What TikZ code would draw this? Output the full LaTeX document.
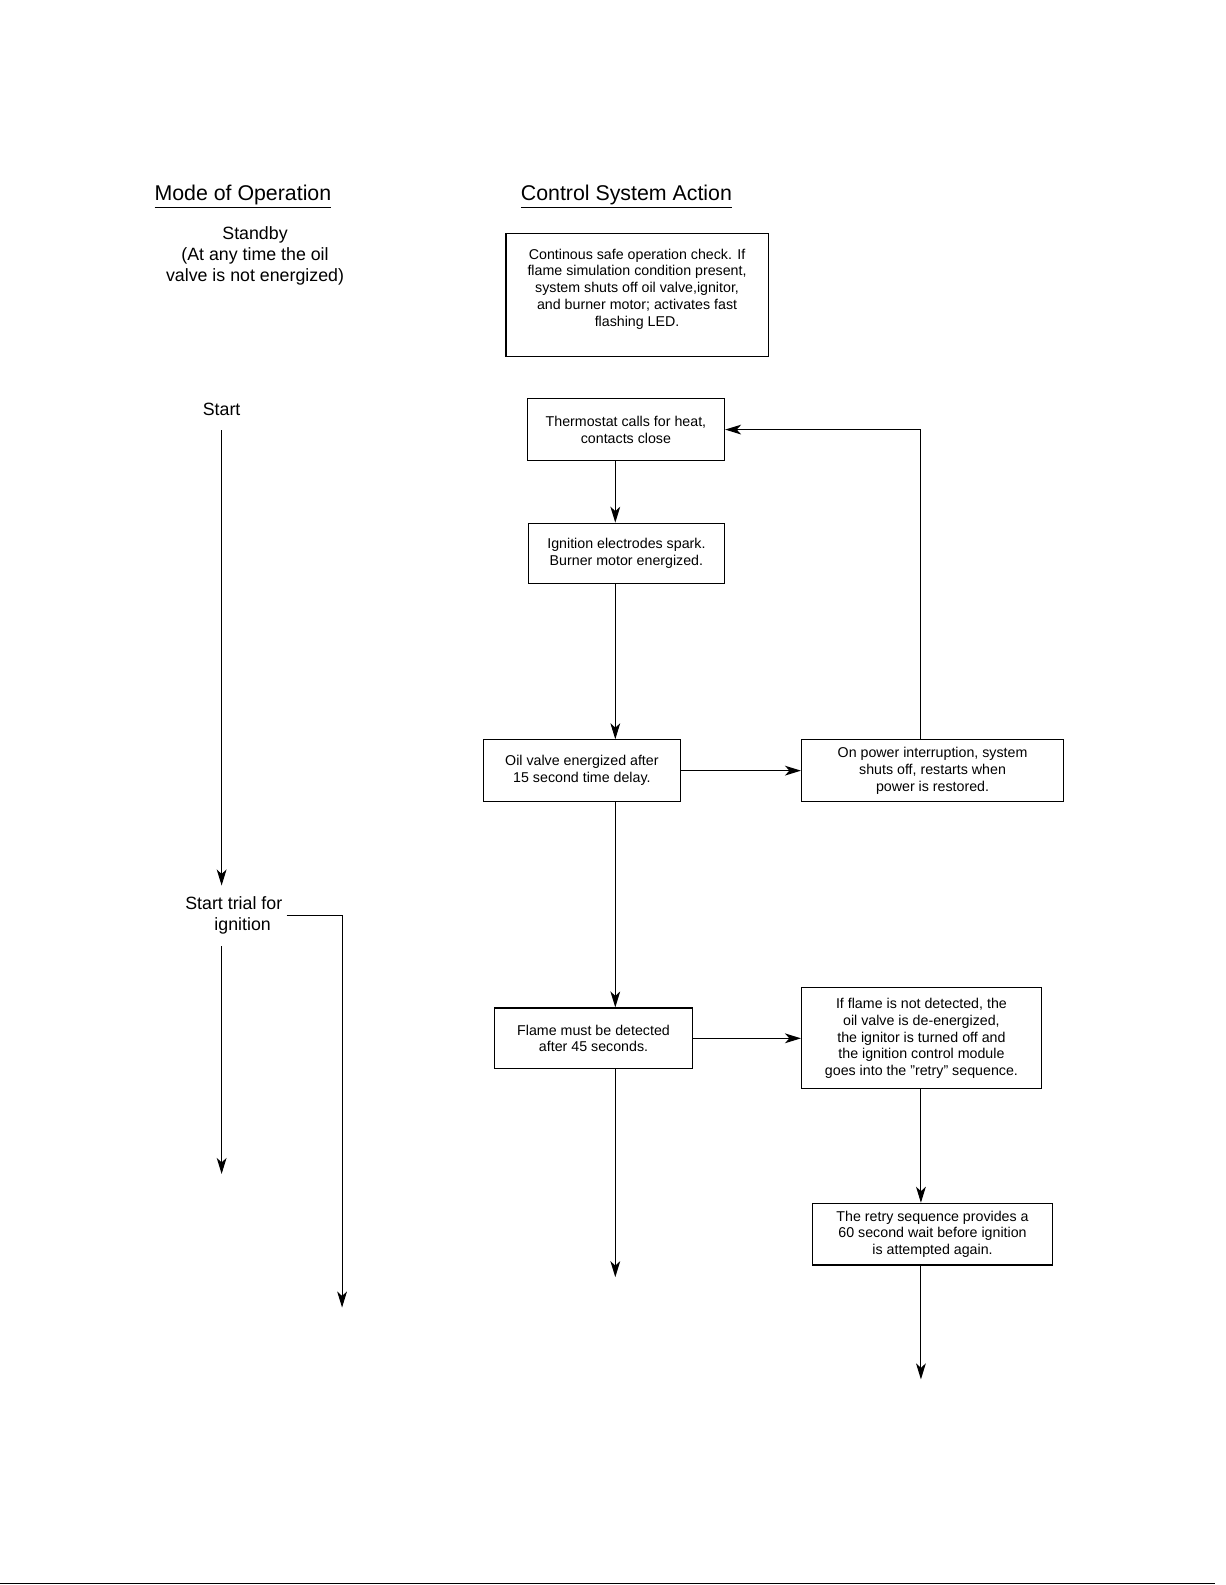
\documentclass[tikz,border=0pt]{standalone}
\usepackage{fontspec}
\setmainfont{Liberation Sans}
\usetikzlibrary{calc,arrows.meta,positioning}

\begin{document}
\begin{tikzpicture}[x=0.2mm,y=-0.2mm,font=\fontsize{8}{9.4}\selectfont]

\tikzset{flowbox/.style={draw=black,line width=0.6pt,inner sep=0pt,align=center},
boxtext/.style={inner sep=0pt,align=center},
modetext/.style={font=\fontsize{10}{12}\selectfont,inner sep=0pt,align=center},
headtext/.style={font=\fontsize{12}{14}\selectfont,inner sep=0pt,anchor=base},
flow/.style={line width=0.6pt,-{Stealth[length=9pt,width=5.5pt,inset=2.5pt]}},
plain/.style={line width=0.6pt}}

\useasboundingbox (0,0) rectangle (1210.5,1566.2);

% Headings
\node[headtext] (modehead) at (240,198) {\underline{Mode of Operation}};
\node[headtext] (actionhead) at (619,198) {\underline{Control System Action}};

% Mode of operation
\node[modetext] (standby) at (252,253) {Standby\\(At any time the oil\\valve is not energized)};
\node[modetext] (start) at (219,405) {Start};
\node[modetext] (trial) at (231,904.5) {Start trial for\\\hspace*{1em}ignition};

% Control system boxes
\node[flowbox,minimum width=51.8mm,minimum height=24.2mm] (check) at (629.5,291.5) {};
\node[boxtext] (checktext) at ([yshift=1.2mm]check.center) {Continous safe operation check. If\\flame simulation condition present,\\system shuts off oil valve,ignitor,\\and burner motor; activates fast\\flashing LED.};
\node[flowbox,minimum width=39mm,minimum height=12.2mm] (thermo) at (618.5,424.5) {Thermostat calls for heat,\\contacts close};
\node[flowbox,minimum width=38.8mm,minimum height=12mm] (ignite) at (619,547) {Ignition electrodes spark.\\Burner motor energized.};
\node[flowbox,minimum width=38.8mm,minimum height=12.2mm] (oil) at (575,761.5) {Oil valve energized after\\15 second time delay.};
\node[flowbox,minimum width=51.8mm,minimum height=12.2mm] (power) at (921.5,761.5) {On power interruption, system\\shuts off, restarts when\\power is restored.};
\node[flowbox,minimum width=39mm,minimum height=12mm] (flame) at (586.5,1026) {Flame must be detected\\after 45 seconds.};
\node[flowbox,minimum width=47.4mm,minimum height=20mm] (fail) at (910.5,1026) {If flame is not detected, the\\oil valve is de-energized,\\the ignitor is turned off and\\the ignition control module\\goes into the "retry" sequence.};
\node[flowbox,minimum width=47.4mm,minimum height=12.2mm] (retry) at (921.5,1219.5) {The retry sequence provides a\\60 second wait before ignition\\is attempted again.};

% Free ends
\coordinate (spine) at (608,0);
\coordinate (loop) at (910,0);
\coordinate (startA) at (219,425);
\coordinate (startB) at (219,875);
\coordinate (trialA) at (219,935);
\coordinate (trialB) at (219,1160);
\coordinate (trialC) at (338,1292);
\coordinate (flameend) at (608,1262);
\coordinate (retryend) at (910,1363);

% Mode arrows
\draw[flow] (startA) -- (startB);
\draw[flow] (trialA) -- (trialB);
\draw[flow] ([xshift=0.8mm]trial.east) -| (trialC);

% Control arrows
\draw[flow] (thermo.south -| spine) -- (ignite.north -| spine);
\draw[flow] (ignite.south -| spine) -- (oil.north -| spine);
\draw[flow] (oil.east) -- (power.west);
\draw[flow] (power.north -| loop) |- (thermo.east);
\draw[flow] (oil.south -| spine) -- (flame.north -| spine);
\draw[flow] (flame.east) -- (fail.west);
\draw[flow] (flame.south -| spine) -- (flameend);
\draw[flow] (fail.south -| loop) -- (retry.north -| loop);
\draw[flow] (retry.south -| loop) -- (retryend);

% Page rule
\draw[line width=0.9pt] (0,1564.5) -- (1201,1564.5);

\end{tikzpicture}
\end{document}
